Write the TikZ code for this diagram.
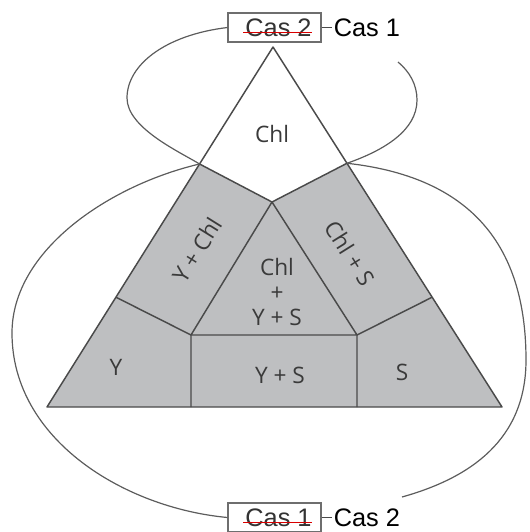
\documentclass[tikz,border=0pt]{standalone}
\usepackage{fontspec}
\setmainfont{Open Sans}
\newfontfamily\casfont{Liberation Sans}
\usetikzlibrary{calc,positioning}
\definecolor{phase}{HTML}{BEBFC1}
\definecolor{edge}{HTML}{4A4A4A}
\definecolor{ink}{HTML}{3A3A3A}

\begin{document}
\begin{tikzpicture}[x=0.75pt,y=-0.75pt,
  edge line/.style={draw=edge,line width=1.1pt,line join=round},
  loop line/.style={draw=edge!90,line width=0.9pt},
  field/.style={font=\fontsize{17}{19}\selectfont,text=ink,align=center},
  cas box/.style={draw=edge!80,line width=0.8pt,minimum width=69.75pt,minimum height=21.75pt,inner sep=0pt},
  cas old/.style={font=\casfont\fontsize{19}{22}\selectfont,text=black!80,inner sep=0pt},
  cas new/.style={font=\casfont\fontsize{19}{22}\selectfont,text=black,inner sep=0pt},
  strike/.style={draw=red!85!black,line width=1.1pt}]
\useasboundingbox (0,0) rectangle (529,532);
%%\draw[help lines] (0,0) grid[step=50] (529,532);
% triangle corners and inner points
\coordinate (A) at (273,47);
\coordinate (B) at (47,407);
\coordinate (C) at (502,407);
\coordinate (P) at ($(A)!0.325!(B)$);
\coordinate (Q) at ($(A)!0.323!(C)$);
\coordinate (L) at ($(A)!0.695!(B)$);
\coordinate (R) at ($(A)!0.695!(C)$);
\coordinate (I) at (272,202);
\coordinate (J) at (191,335);
\coordinate (K) at (357,335);
\fill[phase] (P) -- (I) -- (Q) -- (C) -- (B) -- cycle;
\draw[edge line] (A) -- (B) -- (C) -- cycle;
\draw[edge line] (P) -- (I) -- (Q);
\draw[edge line] (I) -- (J) -- (K) -- cycle;
\draw[edge line] (L) -- (J) -- (J |- B);
\draw[edge line] (R) -- (K) -- (K |- B);
% fields
\node[field] (chl) at (272,134) {Chl};
\node[field,rotate=58] (ychl) at (197,250) {Y + Chl};
\node[field,rotate=-58] (chls) at (350,253) {Chl + S};
\node[field] (mid) at (277,292) {Chl\\+\\Y + S};
\node[field] (y) at (116,367) {Y};
\node[field] (ys) at (280,375) {Y + S};
\node[field] (s) at (402,372) {S};
% cas labels
\node[cas box] (top box) at (274.5,27.5) {};
\node[cas old] (old1) at (278.5,27.5) {Cas 2};
\node[cas new,right=9pt of top box] (new1) {Cas 1};
\draw[strike] ([xshift=-1.5pt]old1.mid west) -- (old1.mid east);
\draw[edge line,line width=0.8pt,shorten >=1.5pt] (top box.east) -- (new1.west);
\node[cas box] (bot box) at (274.5,517.5) {};
\node[cas old] (old2) at (278.5,517.5) {Cas 1};
\node[cas new,right=9pt of bot box] (new2) {Cas 2};
\draw[strike] ([xshift=-1.5pt]old2.mid west) -- (old2.mid east);
\draw[edge line,line width=0.8pt,shorten >=1.5pt] (bot box.east) -- (new2.west);
% loops
\coordinate (top end) at (398,62);
\coordinate (bot end) at (402,497);
\draw[loop line] (top box.west) .. controls (165,35) and (127,65) .. (127,98)
  .. controls (127,128) and (180,152) .. (P);
\draw[loop line] (Q) .. controls (385,150) and (417,130) .. (417,100)
  .. controls (417,85) and (410,72) .. (top end);
\draw[loop line] (P) .. controls (110,185) and (12,250) .. (12,333)
  .. controls (12,440) and (125,508) .. (bot box.west);
\draw[loop line] (Q) .. controls (480,178) and (526,255) .. (526,360)
  .. controls (526,440) and (470,478) .. (bot end);
\end{tikzpicture}
\end{document}
